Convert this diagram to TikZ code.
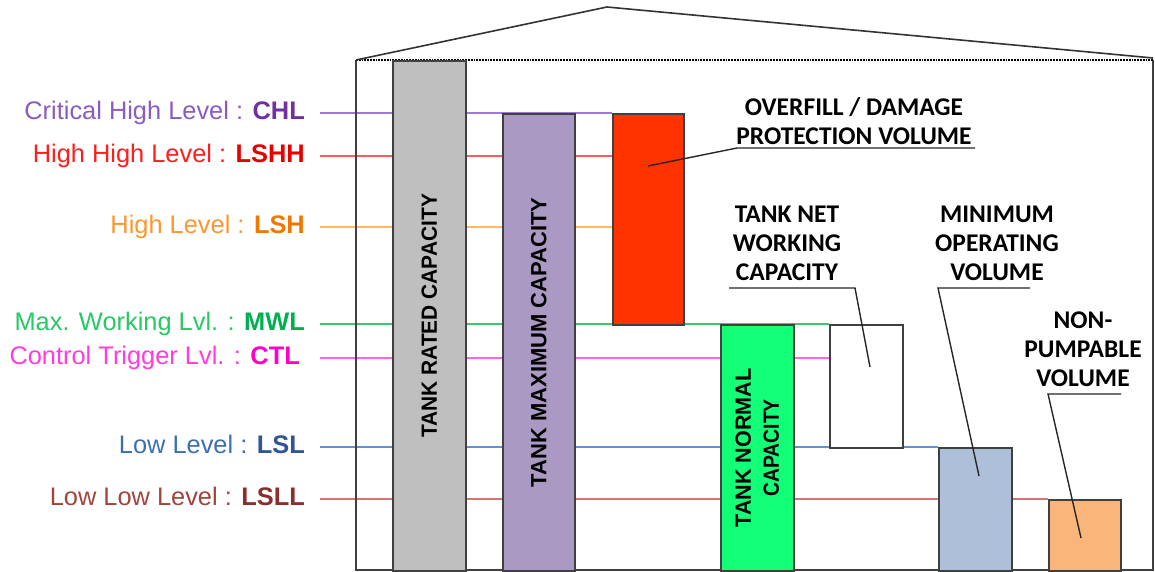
\documentclass[tikz,border=0pt]{standalone}
\usepackage{fontspec}
\setmainfont{Liberation Sans}
\newfontfamily\calfont{Carlito}
\usetikzlibrary{positioning}
\usetikzlibrary{backgrounds}

\definecolor{chltxt}{RGB}{138,92,194}
\definecolor{chlbold}{RGB}{112,48,160}
\definecolor{chlline}{RGB}{160,120,210}
\definecolor{hhtxt}{RGB}{255,30,30}
\definecolor{hhbold}{RGB}{230,0,0}
\definecolor{hhline}{RGB}{255,90,90}
\definecolor{htxt}{RGB}{255,150,45}
\definecolor{hbold}{RGB}{240,120,0}
\definecolor{hline}{RGB}{255,185,100}
\definecolor{mwtxt}{RGB}{40,200,100}
\definecolor{mwbold}{RGB}{0,176,80}
\definecolor{mwline}{RGB}{60,200,110}
\definecolor{cttxt}{RGB}{255,60,220}
\definecolor{ctbold}{RGB}{255,0,200}
\definecolor{ctline}{RGB}{255,100,240}
\definecolor{ltxt}{RGB}{60,110,180}
\definecolor{lbold}{RGB}{47,85,151}
\definecolor{lline}{RGB}{100,145,210}
\definecolor{lltxt}{RGB}{160,69,60}
\definecolor{llbold}{RGB}{139,46,46}
\definecolor{llline}{RGB}{205,120,115}
\definecolor{ratedfill}{RGB}{191,191,191}
\definecolor{maxfill}{RGB}{170,154,195}
\definecolor{overfill}{RGB}{255,51,0}
\definecolor{normalfill}{RGB}{20,255,120}
\definecolor{minopfill}{RGB}{173,191,217}
\definecolor{pumpfill}{RGB}{249,181,122}

\begin{document}
\begin{tikzpicture}[x=1pt,y=-1pt,
  bar/.style={draw=black!75, line width=1.8pt, inner sep=0pt, anchor=north west},
  lvl/.style={inner sep=0pt, text height=18pt, text depth=5pt, font=\fontsize{25.4}{28}\selectfont},
  lvlline/.style={line width=2pt},
  barlabel/.style={rotate=90, align=center, inner sep=0pt, font=\fontsize{22}{28}\selectfont\bfseries},
  callout/.style={align=center, inner sep=0pt, font=\calfont\fontsize{25.5}{29}\selectfont\bfseries},
  leader/.style={draw=black!85, line width=1.4pt}]

\useasboundingbox (0,0) rectangle (1155,572);

% tank shell
\coordinate (tl) at (356,60);
\coordinate (tr) at (1153,60);
\coordinate (bl) at (356,570);
\coordinate (br) at (1153,570);
\coordinate (apex) at (607,7);
\draw[black!75, line width=1.8pt] (tl) -- (bl) -- (br) -- (tr);
\draw[densely dotted, line width=1.8pt] (tl) -- (tr);
\draw[black!80, line width=1.6pt] (tl) -- (apex) -- (1153,58);

% volumes
\node[bar, fill=ratedfill, minimum width=73pt, minimum height=510pt] (rated) at (392,60) {};
\node[bar, fill=maxfill, minimum width=72pt, minimum height=457pt] (maxcap) at (502,113) {};
\node[bar, fill=overfill, minimum width=71pt, minimum height=211pt] (overfill) at (612,113) {};
\node[bar, fill=normalfill, minimum width=73pt, minimum height=246pt] (normal) at (720,324) {};
\node[bar, fill=white, minimum width=73pt, minimum height=123pt] (netwc) at (829,324) {};
\node[bar, fill=minopfill, minimum width=73pt, minimum height=123pt] (minop) at (938,447) {};
\node[bar, fill=pumpfill, minimum width=72pt, minimum height=71pt] (nonpump) at (1048,499) {};

\node[barlabel] (ratedtxt) at (rated.center) {\scalebox{0.95}[1]{TANK RATED CAPACITY}};
\node[barlabel] (maxtxt) at (maxcap.center) {TANK MAXIMUM CAPACITY};
\node[barlabel] (normaltxt) at (normal.center) {\scalebox{0.98}[1]{TANK NORMAL}\\\scalebox{0.88}[1]{CAPACITY}};

% levels
\coordinate (chl) at (320,113);
\coordinate (lshh) at (320,156);
\coordinate (lsh) at (320,227);
\coordinate (mwl) at (320,324);
\coordinate (ctl) at (320,358);
\coordinate (lsl) at (320,447);
\coordinate (lsll) at (320,499);

\node[lvl, left=15pt of chl, text=chltxt] (lchl) {Critical High Level : \textbf{\color{chlbold}CHL}};
\node[lvl, left=15pt of lshh, text=hhtxt] (llshh) {High High Level : \textbf{\color{hhbold}LSHH}};
\node[lvl, left=15pt of lsh, text=htxt] (llsh) {High Level : \textbf{\color{hbold}LSH}};
\node[lvl, left=15pt of mwl, text=mwtxt] (lmwl) {Max. Working Lvl. : \textbf{\color{mwbold}MWL}};
\node[lvl, left=20pt of ctl, text=cttxt] (lctl) {Control Trigger Lvl. : \textbf{\color{ctbold}CTL}};
\node[lvl, left=15pt of lsl, text=ltxt] (llsl) {Low Level : \textbf{\color{lbold}LSL}};
\node[lvl, left=15pt of lsll, text=lltxt] (llsll) {Low Low Level : \textbf{\color{llbold}LSLL}};

\begin{scope}[on background layer]
\draw[lvlline, chlline] (chl) -- (overfill.north west);
\draw[lvlline, hhline] (lshh) -- (lshh -| overfill.west);
\draw[lvlline, hline] (lsh) -- (lsh -| overfill.west);
\draw[lvlline, mwline] (mwl) -- (netwc.north west);
\draw[lvlline, ctline] (ctl) -- (ctl -| netwc.west);
\draw[lvlline, lline] (lsl) -- (minop.north west);
\draw[lvlline, llline] (lsll) -- (nonpump.north west);
\end{scope}

% callouts
\node[callout] (ovtxt) at (854,121) {OVERFILL / DAMAGE\\PROTECTION VOLUME};
\coordinate (ovl) at (737,148);
\coordinate (ovr) at (975,148);
\coordinate (ovtip) at (648,166);
\draw[leader] (ovr) -- (ovl) -- (ovtip);

\node[callout] (nwtxt) at (787,243) {TANK NET\\WORKING\\CAPACITY};
\coordinate (nwl) at (729,288);
\coordinate (nwr) at (855,288);
\coordinate (nwtip) at (870,367);
\draw[leader] (nwl) -- (nwr) -- (nwtip);

\node[callout] (motxt) at (997,243) {MINIMUM\\OPERATING\\VOLUME};
\coordinate (mol) at (938,288);
\coordinate (mor) at (1030,288);
\coordinate (motip) at (979,476);
\draw[leader] (mor) -- (mol) -- (motip);

\node[callout] (nptxt) at (1083,349) {NON-\\PUMPABLE\\VOLUME};
\coordinate (npl) at (1048,394);
\coordinate (npr) at (1121,394);
\coordinate (nptip) at (1081,538);
\draw[leader] (npr) -- (npl) -- (nptip);
\end{tikzpicture}
\end{document}
